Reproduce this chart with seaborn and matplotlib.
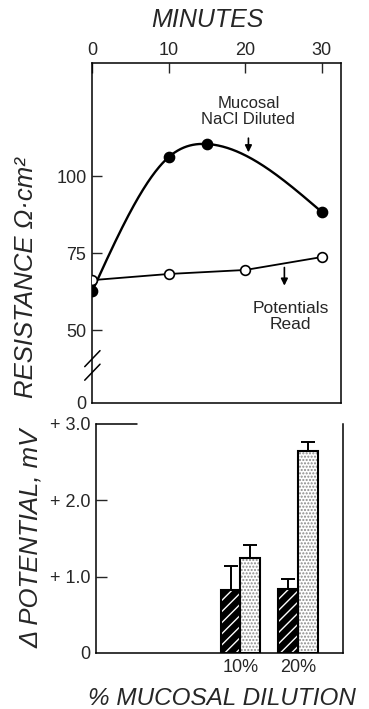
import numpy as np
import pandas as pd
import matplotlib
matplotlib.use("Agg")
import matplotlib.pyplot as plt
from matplotlib.patches import Rectangle
import seaborn as sns

# ---------------- data ----------------
minutes_filled = [0, 10, 15, 30]
resist_filled = [62.7, 106.2, 110.4, 88.3]
minutes_open = [0, 10, 20, 30]
resist_open = [66.2, 68.2, 69.5, 73.7]

dilutions = ["10%", "20%"]
pot_hatched = [0.83, 0.84]
pot_hatched_err = [0.31, 0.13]
pot_dotted = [1.25, 2.64]
pot_dotted_err = [0.17, 0.13]

top_xticks = [0, 10, 20, 30]
top_yticks = [100, 75, 50]
bot_yticks = [0, 1.0, 2.0, 3.0]
bot_yticklabels = ["0", "+ 1.0", "+ 2.0", "+ 3.0"]


def natural_spline(x, y, xs):
    """Smooth drawing curve (natural cubic spline) through the data points."""
    x = np.asarray(x, float)
    y = np.asarray(y, float)
    n = len(x)
    h = np.diff(x)
    A = np.zeros((n, n))
    b = np.zeros(n)
    A[0, 0] = A[-1, -1] = 1.0
    for i in range(1, n - 1):
        A[i, i - 1] = h[i - 1]
        A[i, i] = 2 * (h[i - 1] + h[i])
        A[i, i + 1] = h[i]
        b[i] = 6 * ((y[i + 1] - y[i]) / h[i] - (y[i] - y[i - 1]) / h[i - 1])
    M = np.linalg.solve(A, b)
    out = np.empty_like(xs)
    for k, t in enumerate(xs):
        i = min(np.searchsorted(x, t, side="right") - 1, n - 2)
        i = max(i, 0)
        a, c = x[i], x[i + 1]
        hh = c - a
        out[k] = (M[i] * (c - t) ** 3 / (6 * hh) + M[i + 1] * (t - a) ** 3 / (6 * hh)
                  + (y[i] / hh - M[i] * hh / 6) * (c - t)
                  + (y[i + 1] / hh - M[i + 1] * hh / 6) * (t - a))
    return out


# ---------------- style ----------------
sns.set_style("ticks")
plt.rcParams["font.family"] = ["Liberation Sans", "DejaVu Sans"]
plt.rcParams["hatch.linewidth"] = 1.0

fig = plt.figure(figsize=(3.69, 7.09), dpi=100)

# ---------------- top panel ----------------
ax1 = fig.add_axes([0.2493, 0.4316, 0.6748, 0.4795])
ax1.set_xlim(-0.05, 32.5)
ybot_val = 26.3
ax1.set_ylim(ybot_val, 136.7)

tt = np.linspace(min(minutes_filled), max(minutes_filled), 300)
ax1.plot(tt, natural_spline(minutes_filled, resist_filled, tt), color="black",
         lw=1.7, zorder=2)
sns.scatterplot(x=minutes_filled, y=resist_filled, ax=ax1, color="black",
                s=55, edgecolor="black", linewidth=1, zorder=3)

df_open = pd.DataFrame({"t": minutes_open, "r": resist_open})
sns.lineplot(data=df_open, x="t", y="r", ax=ax1, color="black", lw=1.3,
             marker="o", markersize=7, markerfacecolor="white",
             markeredgecolor="black", markeredgewidth=1.2, zorder=4)

ax1.xaxis.tick_top()
ax1.xaxis.set_label_position("top")
ax1.set_xticks(top_xticks)
ax1.set_xticklabels([str(v) for v in top_xticks])
ax1.set_yticks([ybot_val] + top_yticks)
ax1.set_yticklabels(["0"] + [str(v) for v in top_yticks])
ax1.tick_params(axis="both", direction="in", length=7, width=1,
                labelsize=13, pad=4)
ax1.tick_params(axis="x", pad=3)
ax1.yaxis.get_major_ticks()[0].tick1line.set_visible(False)
ax1.set_xlabel("MINUTES", fontsize=18, style="italic")
ax1.xaxis.set_label_coords(0.465, 1.105)
ax1.set_ylabel("RESISTANCE Ω·cm²", fontsize=18.5, style="italic")
ax1.yaxis.set_label_coords(-0.215, 0.37)
for s in ax1.spines.values():
    s.set_linewidth(1.1)
    s.set_color("black")

# axis break marks
brk = 38.5
for off in (-2.2, 2.2):
    ax1.plot([-1.0, 1.0], [brk + off - 2.6, brk + off + 2.6], color="black",
             lw=1.1, clip_on=False, zorder=5)

# annotations
ax1.text(20.4, 121, "Mucosal\nNaCl Diluted", ha="center", va="center",
         fontsize=12, linespacing=1.1)
ax1.annotate("", xy=(20.4, 106.8), xytext=(20.4, 113.2),
             arrowprops=dict(arrowstyle="-|>", color="black", lw=1.2,
                             mutation_scale=10))
ax1.text(25.9, 54.5, "Potentials\nRead", ha="center", va="center",
         fontsize=12.5, linespacing=1.1)
ax1.annotate("", xy=(25.1, 63.5), xytext=(25.1, 71.2),
             arrowprops=dict(arrowstyle="-|>", color="black", lw=1.2,
                             mutation_scale=10))

# ---------------- bottom panel ----------------
ax2 = fig.add_axes([0.2602, 0.0790, 0.6693, 0.3230])
df_bar = pd.DataFrame({
    "dilution": dilutions * 2,
    "kind": ["hatched"] * 2 + ["dotted"] * 2,
    "value": pot_hatched + pot_dotted,
})
sns.barplot(data=df_bar, x="dilution", y="value", hue="kind",
            palette=["black", "white"], width=0.68, ax=ax2, legend=False,
            errorbar=None, saturation=1)

ax2.set_xlim(-2.513, 1.783)
ax2.set_ylim(0, 3.0)

bars = list(ax2.patches)
errs = pot_hatched_err + pot_dotted_err
for i, b in enumerate(bars):
    x0, w, h = b.get_x(), b.get_width(), b.get_height()
    if i < 2:
        b.set_facecolor("black")
        b.set_edgecolor("white")
        b.set_hatch("///")
        b.set_linewidth(0)
    else:
        b.set_facecolor("white")
        b.set_edgecolor("#8a8a8a")
        b.set_hatch(".....")
        b.set_linewidth(0)
    ax2.add_patch(Rectangle((x0, 0), w, h, fill=False, edgecolor="black",
                            lw=1.5, zorder=3))
    ax2.errorbar(x0 + w / 2, h, yerr=[[0], [errs[i]]], fmt="none",
                 ecolor="black", elinewidth=1.4, capsize=5, capthick=1.4,
                 zorder=2)

ax2.set_yticks(bot_yticks)
ax2.set_yticklabels(bot_yticklabels)
ax2.tick_params(axis="y", direction="in", length=8, width=1,
                labelsize=13, pad=4)
ax2.tick_params(axis="x", length=0, labelsize=13, pad=4)
ax2.yaxis.get_major_ticks()[0].tick1line.set_visible(False)
ax2.yaxis.get_major_ticks()[-1].tick1line.set_visible(False)
ax2.axhline(3.0, xmin=0, xmax=0.166, color="black", lw=1.1, clip_on=False)
ax2.spines["top"].set_visible(False)
for s in ("left", "bottom", "right"):
    ax2.spines[s].set_linewidth(1.1)
    ax2.spines[s].set_color("black")
ax2.set_xlabel("% MUCOSAL DILUTION", fontsize=17.5, style="italic")
ax2.xaxis.set_label_coords(0.51, -0.15)
ax2.set_ylabel("Δ POTENTIAL, mV", fontsize=18.5, style="italic")
ax2.yaxis.set_label_coords(-0.215, 0.5)

fig.savefig("out.png", dpi=100)
